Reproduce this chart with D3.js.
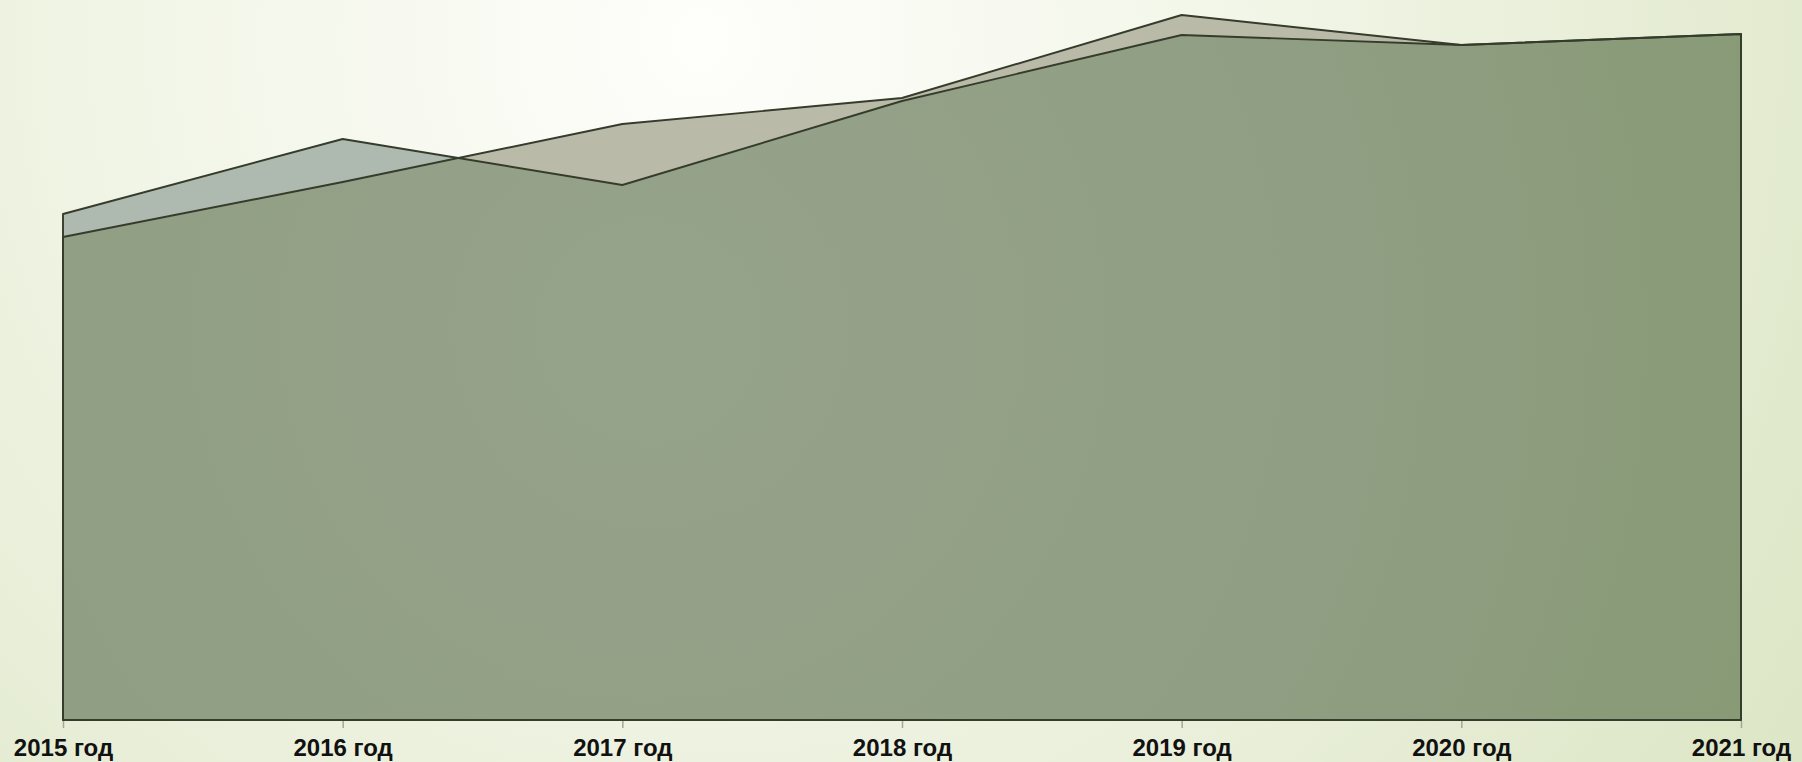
<!DOCTYPE html>
<html>
<head>
<meta charset="utf-8">
<script src="https://cdn.jsdelivr.net/npm/d3@7"></script>
<style>
  html, body { margin: 0; padding: 0; overflow: hidden; }
  svg { display: block; }
</style>
</head>
<body>
<script>
// ---- data ----
const categories = ["2015 год", "2016 год", "2017 год", "2018 год", "2019 год", "2020 год", "2021 год"];
const seriesA = [506, 581, 535, 619, 685, 675, 686];   // blue-grey series
const seriesB = [483, 538, 596, 622, 705, 675, 686];   // beige-grey series
const yDomain = [0, 720];

// ---- layout ----
const W = 1802, H = 762;
const svg = d3.select("body").append("svg").attr("width", W).attr("height", H);
const defs = svg.append("defs");

const bg = defs.append("radialGradient").attr("id", "bg")
  .attr("gradientUnits", "userSpaceOnUse").attr("cx", 700).attr("cy", 40).attr("r", 1300);
bg.append("stop").attr("offset", 0).attr("stop-color", "#fefefb");
bg.append("stop").attr("offset", 0.45).attr("stop-color", "#f1f5e6");
bg.append("stop").attr("offset", 1).attr("stop-color", "#dde6c6");

const gg = defs.append("radialGradient").attr("id", "green")
  .attr("gradientUnits", "userSpaceOnUse").attr("cx", 650).attr("cy", 330).attr("r", 1150);
gg.append("stop").attr("offset", 0).attr("stop-color", "#96a38b");
gg.append("stop").attr("offset", 0.6).attr("stop-color", "#909e83");
gg.append("stop").attr("offset", 1).attr("stop-color", "#889a76");

svg.append("rect").attr("width", W).attr("height", H).attr("fill", "url(#bg)");

const x = d3.scalePoint().domain(categories).range([63, 1741]);
const y = d3.scaleLinear().domain(yDomain).range([720, 0]);

const area = d3.area()
  .x((d, i) => x(categories[i]))
  .y0(y(0))
  .y1(d => y(d));

const pathA = area(seriesA);
const pathB = area(seriesB);

defs.append("clipPath").attr("id", "clipA").append("path").attr("d", pathA);

svg.append("path").attr("d", pathA).attr("fill", "#aebaaf");
svg.append("path").attr("d", pathB).attr("fill", "#b9baa8");
svg.append("path").attr("d", pathB).attr("fill", "url(#green)").attr("clip-path", "url(#clipA)");

svg.append("path").attr("d", pathA).attr("fill", "none")
  .attr("stroke", "#353c2c").attr("stroke-width", 1.9).attr("stroke-linejoin", "round");
svg.append("path").attr("d", pathB).attr("fill", "none")
  .attr("stroke", "#353c2c").attr("stroke-width", 1.9).attr("stroke-linejoin", "round");

// axis
const axis = d3.axisBottom(x).tickSize(7).tickPadding(4);
const gAxis = svg.append("g").attr("transform", `translate(0,${y(0) + 1})`).call(axis);
gAxis.select(".domain").remove();
gAxis.selectAll(".tick line").attr("stroke", "#a3a79b").attr("stroke-width", 1.5);
gAxis.selectAll(".tick text")
  .attr("fill", "#111")
  .attr("font-family", "'Liberation Sans', Arial, sans-serif")
  .attr("font-weight", "bold")
  .attr("font-size", 24)
  .attr("dy", null)
  .attr("y", 35);
</script>
</body>
</html>
